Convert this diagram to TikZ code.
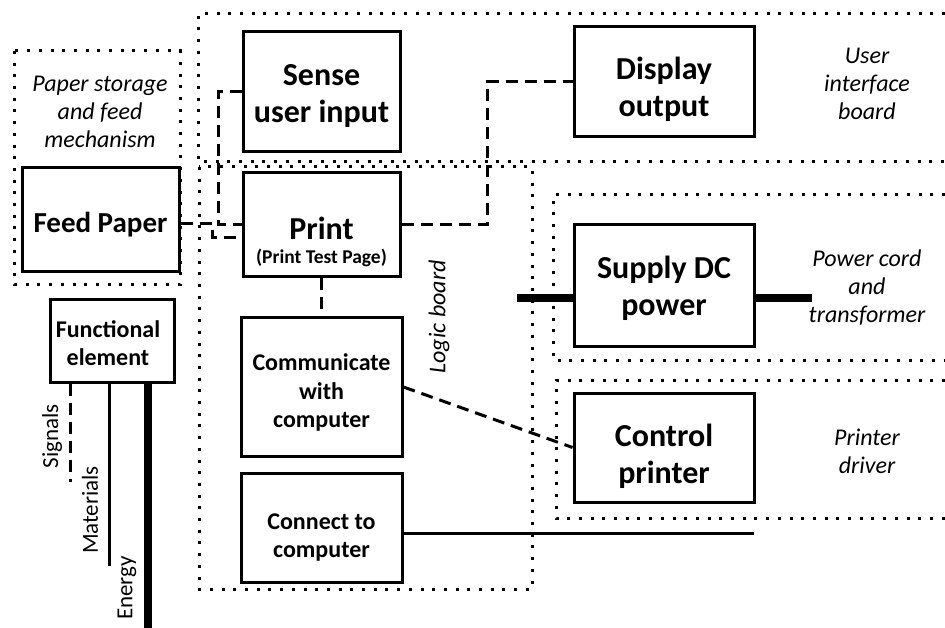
\documentclass[tikz,border=0pt]{standalone}
\usepackage{fontspec}
\setmainfont{Carlito}
\usetikzlibrary{calc}
\begin{document}
\begin{tikzpicture}[x=1pt,y=-1pt,
  box/.style={draw, line width=3pt, inner sep=0pt},
  bt/.style={anchor=base, inner sep=0pt, font=\fontsize{32}{38}\selectfont\bfseries},
  mt/.style={anchor=base, inner sep=0pt, font=\fontsize{24}{28.5}\selectfont\bfseries},
  st/.style={anchor=base, inner sep=0pt, font=\fontsize{19.5}{23}\selectfont\bfseries},
  grp/.style={line width=3pt, dash pattern=on 3pt off 8.7pt},
  lbl/.style={align=center, font=\fontsize{24}{28}\selectfont\itshape},
  flow/.style={font=\fontsize{23}{26}\selectfont},
  dsh/.style={line width=3pt, dash pattern=on 12pt off 7pt},
  sol/.style={line width=3pt},
  thk/.style={line width=8pt}]
\useasboundingbox (0,0) rectangle (945,628);
% groups
\draw[grp] (945,14) -- (198,14) -- (198,162) -- (945,162);
\draw[grp] (14,51) rectangle (180,285);
\draw[grp] (199,167) rectangle (532,589);
\draw[grp] (945,195) -- (553,195) -- (553,360) -- (945,360);
\draw[grp] (945,380) -- (556,380) -- (556,518) -- (945,518);
% group labels
\node[lbl] (lpaper) at (100,112) {Paper storage\\and feed\\mechanism};
\node[lbl] (lui) at (867,84.3) {User\\interface\\board};
\node[lbl] (lpow) at (867,287.5) {Power cord\\and\\transformer};
\node[lbl] (ldrv) at (867,451) {Printer\\driver};
\node[lbl, rotate=90] (llogic) at (439,317) {Logic board};
% boxes
\node[box, minimum width=157, minimum height=104] (feed) at (100.5,220) {};
\node[box, minimum width=157, minimum height=120] (sense) at (321.5,92) {};
\node[box, minimum width=157, minimum height=104] (print) at (321.5,225) {};
\node[box, minimum width=180, minimum height=110] (disp) at (664,82) {};
\node[box, minimum width=180, minimum height=121] (supply) at (664,285.5) {};
\node[box, minimum width=180, minimum height=109] (ctrl) at (664,447.5) {};
\node[box, minimum width=161, minimum height=138] (comm) at (321.5,387) {};
\node[box, minimum width=161, minimum height=109] (conn) at (321.5,527.5) {};
\node[box, minimum width=124, minimum height=82] (func) at (112,341) {};
% box texts
\node[bt, font=\fontsize{29}{35}\selectfont\bfseries] (feedt) at (100.5,232.3) {Feed Paper};
\node[bt] (senset1) at (321.5,85.3) {Sense};
\node[bt] (senset2) at (321.5,122.7) {user input};
\node[bt] (printt1) at (321.5,240) {Print};
\node[st] (printt2) at (321.5,263.3) {(Print Test Page)};
\node[bt] (dispt1) at (664,80) {Display};
\node[bt] (dispt2) at (664,117) {output};
\node[bt] (supplyt1) at (664,279) {Supply DC};
\node[bt] (supplyt2) at (664,316) {power};
\node[bt] (ctrlt1) at (664,446) {Control};
\node[bt] (ctrlt2) at (664,483) {printer};
\node[mt] (commt1) at (321.5,370.7) {Communicate};
\node[mt] (commt2) at (321.5,399) {with};
\node[mt] (commt3) at (321.5,427.7) {computer};
\node[mt] (connt1) at (321.5,529.3) {Connect to};
\node[mt] (connt2) at (321.5,557.3) {computer};
\node[mt] (funct1) at (108,337.7) {Functional};
\node[mt] (funct2) at (108,365.7) {element};
% connectors
\draw[dsh] ([yshift=-4pt]feed.east) -- (212,224) -- (212,238) -- ([yshift=-13pt]print.west);
\draw[dsh] (sense.west) -- (218,92) -- (218,225) -- (print.west);
\draw[dsh] (print.east) -- (487,225) -- (487,82) -- (disp.west);
\draw[dsh] (print.south) -- (comm.north);
\draw[dsh] (comm.east) -- (ctrl.west);
\coordinate (cend) at (754,533);
\draw[sol] ([yshift=-5.5pt]conn.east) -- (cend);
\coordinate (pin) at (517,298);
\coordinate (pout) at (812,298);
\draw[thk] (pin) -- ([yshift=-12.5pt]supply.west);
\draw[thk] ([yshift=-12.5pt]supply.east) -- (pout);
% legend flows
\coordinate (sigend) at (70,482);
\coordinate (matend) at (109,566);
\coordinate (enend) at (148,628);
\draw[dsh] (func.south -| sigend) -- (sigend);
\draw[sol] (func.south -| matend) -- (matend);
\draw[thk] (func.south -| enend) -- (enend);
\node[flow, rotate=90] (tsig) at (52,436) {Signals};
\node[flow, rotate=90] (tmat) at (90,510) {Materials};
\node[flow, rotate=90] (ten) at (127,588) {Energy};
\end{tikzpicture}
\end{document}
